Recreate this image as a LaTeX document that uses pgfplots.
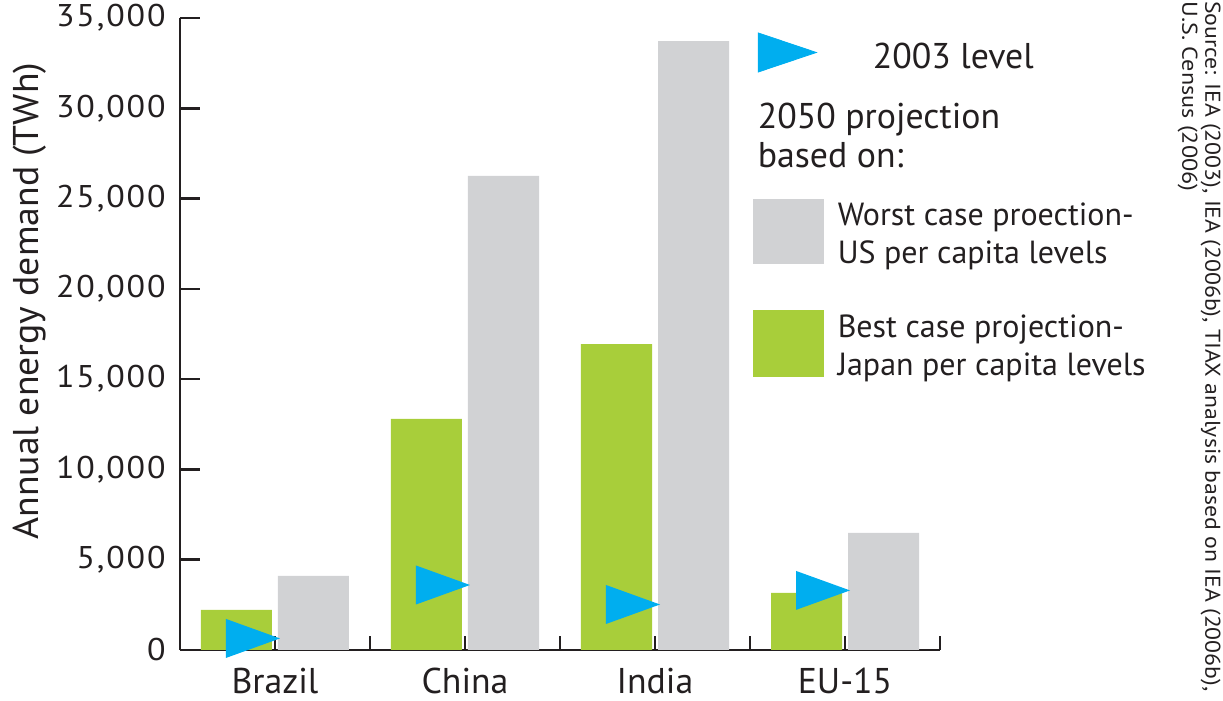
\documentclass[border=0pt]{standalone}
\usepackage{pgfplots}
\pgfplotsset{compat=1.18}
\usepackage{fontspec}
\setmainfont{PT Sans}
\newfontfamily\tickfont[FakeStretch=1.08, LetterSpace=6]{PT Sans}
\definecolor{bargreen}{RGB}{168,206,58}
\definecolor{bargray}{RGB}{209,210,212}
\definecolor{triblue}{RGB}{0,174,239}
\definecolor{txt}{RGB}{35,31,32}
\pgfdeclareplotmark{rtri}{%
 \pgfpathmoveto{\pgfqpoint{-24.5pt}{9.75pt}}%
 \pgfpathlineto{\pgfqpoint{2.5pt}{0pt}}%
 \pgfpathlineto{\pgfqpoint{-24.5pt}{-9.75pt}}%
 \pgfpathclose\pgfusepathqfill}
\begin{document}
\begin{tikzpicture}
\path[use as bounding box] (0,0) rectangle (611.5pt,350.5pt);
\begin{axis}[
 at={(90pt,25.5pt)}, anchor=south west,
 scale only axis, width=380pt, height=316pt,
 xmin=-0.5, xmax=3.5, ymin=0, ymax=35000,
 clip=false,
 axis x line*=bottom, axis y line*=left,
 axis line style={line width=1.3pt, color=txt},
 every tick/.style={line width=1.3pt, color=txt},
 tick align=inside,
 major tick length=10pt,
 xtick={0.5,1.5,2.5,3.5}, xticklabels={},
 xtick style={/pgfplots/major tick length=7pt},
 extra x ticks={0,1,2,3},
 extra x tick labels={Brazil,China,India,EU-15},
 extra x tick style={major tick length=0pt},
 xticklabel style={font=\fontsize{17.9}{20}\selectfont, text=txt, anchor=north, inner sep=0pt, yshift=-9pt},
 ytick={0,5000,10000,15000,20000,25000,30000,35000},
 scaled y ticks=false,
 /pgf/number format/.cd, 1000 sep={,}, assume math mode=true, /pgfplots/.cd,
 yticklabel style={font=\tickfont\fontsize{15.7}{18}\selectfont, text=txt, anchor=east, inner sep=0pt, xshift=-7pt},
 ylabel={\resizebox{238.5pt}{\height}{Annual energy demand (TWh)}},
 ylabel style={at={(axis description cs:-0.175,0.552)}, anchor=south, inner sep=0pt, font=\fontsize{17.9}{20}\selectfont, text=txt},
 legend style={at={(axis description cs:0.7539,1.0119)}, anchor=north west, draw=none, fill=none, inner sep=0pt, outer sep=0pt, column sep=7pt, row sep=0pt, nodes={inner sep=0pt}, cells={anchor=west, inner sep=0pt, text=txt}},
]
\addplot[ybar, bar width=35.5pt, bar shift=-19.25pt, fill=bargreen, draw=none, forget plot] coordinates {(0,2215) (1,12800) (2,16940) (3,3160)};
\addplot[ybar, bar width=35.5pt, bar shift=19.25pt, fill=bargray, draw=none, forget plot] coordinates {(0,4100) (1,26250) (2,33720) (3,6480)};
\addplot[only marks, mark=rtri, color=triblue, mark options={fill=triblue, draw=none}, forget plot] coordinates {(0,640) (1,3600) (2,2520) (3,3300)};

\addlegendimage{legend image code/.code={\path[draw=none,fill=none] (0,-21pt) rectangle (35pt,21pt); \fill[triblue] (2.5pt,9.75pt) -- (31.5pt,0pt) -- (2.5pt,-9.75pt) -- cycle;}}
\addlegendentry{\fontsize{17.9}{19.5}\selectfont\hspace*{17.5pt}\raisebox{-2.5pt}[\height][\depth]{2003 level}}
\addlegendimage{legend image code/.code={\path[draw=none,fill=none] (0,-22pt) rectangle (35pt,22pt);}}
\addlegendentry{\fontsize{17.9}{19.5}\selectfont\hspace*{-40pt}\raisebox{-6pt}[0pt][0pt]{\begin{tabular}{@{}l@{}}2050 projection\\based on:\end{tabular}}}
\addlegendimage{legend image code/.code={\path[draw=none,fill=none] (0,-24.5pt) rectangle (35pt,24.5pt); \fill[bargray] (0,-16pt) rectangle (35pt,16pt);}}
\addlegendentry{\fontsize{16}{19}\selectfont\raisebox{4pt}[\height][\depth]{\begin{tabular}{@{}l@{}}Worst case proection-\\US per capita levels\end{tabular}}}
\addlegendimage{legend image code/.code={\path[draw=none,fill=none] (0,-31.5pt) rectangle (35pt,31.5pt); \fill[bargreen] (0,-16.5pt) rectangle (35pt,16.5pt);}}
\addlegendentry{\fontsize{16}{19}\selectfont\raisebox{4pt}[\height][\depth]{\begin{tabular}{@{}l@{}}Best case projection-\\Japan per capita levels\end{tabular}}}
\end{axis}
\node[rotate=-90, anchor=north west, inner sep=0pt, align=left, font=\fontsize{10.7}{11.5}\selectfont, text=txt] at (610.5pt,350pt) {\resizebox{345pt}{\height}{Source: IEA (2003), IEA (2006b), TIAX analysis based on IEA (2006b),}\\\resizebox{95pt}{\height}{U.S. Census (2006)}};
\end{tikzpicture}
\end{document}
